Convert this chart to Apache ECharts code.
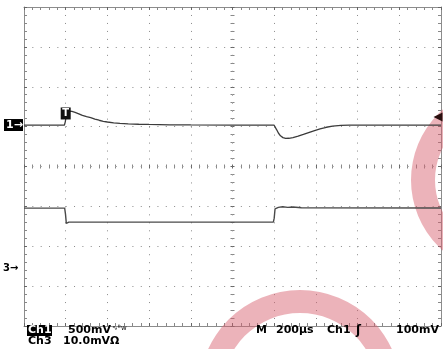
<!DOCTYPE html>
<html><head><meta charset="utf-8">
<script src="https://cdn.jsdelivr.net/npm/echarts@6/dist/echarts.min.js"></script>
<style>html,body{margin:0;padding:0;background:#fff}#c{width:443px;height:349px}</style>
</head><body><div id="c"></div>
<script>
// ---- data (time in µs, channel values in mV) ----
const ch1TimeUs = [-1000,-900,-806,-802,-798,-790,-780,-770,-755,-740,-720,-700,-680,-660,-640,-620,-600,-570,-540,-500,-450,-400,-300,-200,0,199,205,212,220,230,242,255,270,290,315,340,365,390,420,450,480,520,560,800,1000];
const ch1mV      = [0,0,0,40,110,160,175,170,158,143,120,104,92,74,60,47,38,26,20,15,10,7,3,1,0,0,-25,-60,-100,-135,-158,-167,-166,-158,-140,-118,-95,-72,-48,-28,-14,-5,0,0,0];
const ch3TimeUs = [-1000,-805,-801,-797,-792,-785,196,200,204,210,220,240,265,290,330,1000];
const ch3mV      = [15.0,15.0,13.5,11.2,11.3,11.5,11.5,12.5,14.8,15.3,15.2,15.35,15.2,15.3,15.1,15.05];
const ch1mVPerDiv = 500, ch3mVPerDiv = 10;
const ch1GroundDiv = 1.04, ch3GroundDiv = -2.545;
const triggerTimeUs = -800, triggerLevelmV = 100;
const timeMinUs = -1000, timeMaxUs = 1000, timePerDivUs = 200;
const divMin = -4, divMax = 4;
const readout1 = ['Ch1', '500mV', 'M', '200µs', 'Ch1', '100mV'];
const readout2 = ['Ch3', '10.0mVΩ'];

const ch1Data = ch1TimeUs.map((t, i) => [t, ch1GroundDiv + ch1mV[i] / ch1mVPerDiv]);
const ch3Data = ch3TimeUs.map((t, i) => [t, ch3GroundDiv + ch3mV[i] / ch3mVPerDiv]);

const GRID = '#8c8c8c';
function xAx(pos, onZero, inside, split) {
  return {
    type: 'value', min: timeMinUs, max: timeMaxUs, interval: timePerDivUs, position: pos,
    axisLine: { show: !onZero, onZero: onZero, onZeroAxisIndex: 0, lineStyle: { color: GRID, width: 1 } },
    axisTick: { show: true, inside: inside, length: onZero ? 2 : 3, lineStyle: { color: '#666' } },
    minorTick: { show: true, splitNumber: 5, length: onZero ? 2 : 3, lineStyle: { color: '#888' } },
    axisLabel: { show: false },
    splitLine: { show: split, lineStyle: { color: '#8a8a8a', width: 1, type: [1, 6.975] } }
  };
}
function yAx(pos, onZero, inside, split) {
  return {
    type: 'value', min: divMin, max: divMax, interval: 1, position: pos,
    axisLine: { show: !onZero, onZero: onZero, onZeroAxisIndex: 0, lineStyle: { color: GRID, width: 1 } },
    axisTick: { show: true, inside: inside, length: onZero ? 2 : 3, lineStyle: { color: '#666' } },
    minorTick: { show: true, splitNumber: 5, length: onZero ? 2 : 3, lineStyle: { color: '#888' } },
    axisLabel: { show: false },
    splitLine: { show: split, lineStyle: { color: '#8a8a8a', width: 1, type: [1, 7.34] } }
  };
}

const chart = echarts.init(document.getElementById('c'), null, { renderer: 'canvas' });
const FONT = 'bold 11px "DejaVu Sans"';
chart.setOption({
  animation: false,
  backgroundColor: '#fff',
  grid: { left: 24, top: 7, width: 417, height: 319, show: false },
  xAxis: [xAx('bottom', true, false, true), xAx('top', true, false, false), xAx('top', false, true, false), xAx('bottom', false, true, false)],
  yAxis: [yAx('left', true, false, true), yAx('right', true, false, false), yAx('left', false, true, false), yAx('right', false, true, false)],
  series: [
    { type: 'line', data: ch1Data, showSymbol: false, clip: false, z: 5,
      lineStyle: { color: '#3c3c3c', width: 1.3 },
      markPoint: { symbol: 'rect', silent: true, animation: false, z: 30,
        data: [
          { coord: [triggerTimeUs, ch1GroundDiv + 145 / ch1mVPerDiv], symbol: 'rect', symbolSize: [10, 12],
            itemStyle: { color: '#111' },
            label: { show: true, position: 'inside', formatter: 'T', color: '#fff', fontFamily: 'DejaVu Sans', fontWeight: 'bold', fontSize: 10 } },
          { coord: [timeMaxUs, ch1GroundDiv + triggerLevelmV / ch1mVPerDiv], symbol: 'triangle', symbolSize: [9, 9], symbolRotate: 90, symbolOffset: [-3, 0],
            itemStyle: { color: '#2a1010' }, label: { show: false } }
        ] } },
    { type: 'line', data: ch3Data, showSymbol: false, clip: false, z: 5,
      lineStyle: { color: '#4a4a4a', width: 1.4 } }
  ]
});

const y1 = chart.convertToPixel({ yAxisIndex: 0 }, ch1GroundDiv);
const y3 = chart.convertToPixel({ yAxisIndex: 0 }, ch3GroundDiv);
const PINK = 'rgba(216,96,110,0.48)';
chart.setOption({
  graphic: [
    { type: 'rect', shape: { x: 4, y: y1 - 6, width: 19, height: 12 }, style: { fill: '#000' }, z: 10 },
    { type: 'text', z: 11, style: { x: 6, y: y1, text: '1→', font: 'bold 11px "DejaVu Sans"', fill: '#fff', textVerticalAlign: 'middle', verticalAlign: 'middle' } },
    { type: 'text', z: 11, style: { x: 3, y: y3, text: '3→', font: 'bold 10px "DejaVu Sans"', fill: '#000', textVerticalAlign: 'middle', verticalAlign: 'middle' } },
    { type: 'rect', z: 10, shape: { x: 27, y: 325, width: 25, height: 11 }, style: { fill: '#000' } },
    { type: 'text', z: 11, style: { x: 28, y: 330.5, text: readout1[0], font: FONT, fill: '#fff', textVerticalAlign: 'middle', verticalAlign: 'middle' } },
    { type: 'text', z: 11, style: { x: 68, y: 330.5, text: readout1[1], font: FONT, fill: '#000', textVerticalAlign: 'middle', verticalAlign: 'middle' } },
    { type: 'text', z: 11, style: { x: 112, y: 328, text: '∿ᴮw', font: '7px "DejaVu Sans"', fill: '#000', textVerticalAlign: 'middle', verticalAlign: 'middle' } },
    { type: 'text', z: 11, style: { x: 256, y: 330.5, text: readout1[2], font: FONT, fill: '#000', textVerticalAlign: 'middle', verticalAlign: 'middle' } },
    { type: 'text', z: 11, style: { x: 276, y: 330.5, text: readout1[3], font: FONT, fill: '#000', textVerticalAlign: 'middle', verticalAlign: 'middle' } },
    { type: 'text', z: 11, style: { x: 327, y: 330.5, text: readout1[4], font: FONT, fill: '#000', textVerticalAlign: 'middle', verticalAlign: 'middle' } },
    { type: 'text', z: 11, style: { x: 356, y: 330.5, text: 'ʃ', font: 'bold 12px "DejaVu Sans"', fill: '#000', textVerticalAlign: 'middle', verticalAlign: 'middle' } },
    { type: 'text', z: 11, style: { x: 396, y: 330.5, text: readout1[5], font: FONT, fill: '#000', textVerticalAlign: 'middle', verticalAlign: 'middle' } },
    { type: 'text', z: 11, style: { x: 28, y: 341.5, text: readout2[0], font: FONT, fill: '#000', textVerticalAlign: 'middle', verticalAlign: 'middle' } },
    { type: 'text', z: 11, style: { x: 63, y: 341.5, text: readout2[1], font: FONT, fill: '#000', textVerticalAlign: 'middle', verticalAlign: 'middle' } },
    { type: 'ring', z: 4, silent: true, shape: { cx: 505, cy: 180, r: 94, r0: 70 }, style: { fill: PINK } },
    { type: 'ring', z: 4, silent: true, shape: { cx: 300, cy: 391, r: 101, r0: 78 }, style: { fill: PINK } }
  ]
});
</script></body></html>
